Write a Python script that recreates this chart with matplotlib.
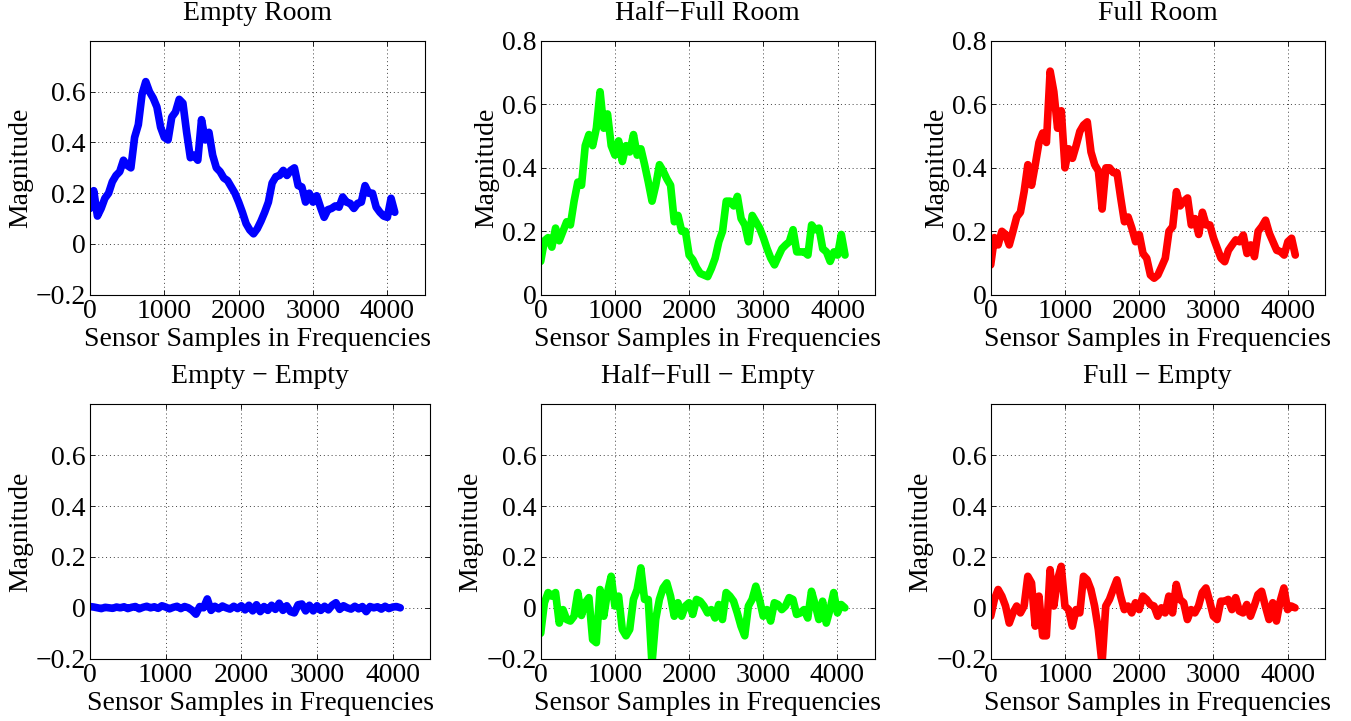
import numpy as np
import matplotlib
matplotlib.use("Agg")
import matplotlib.pyplot as plt
from matplotlib.ticker import FuncFormatter

plt.rcParams['font.family'] = ['Liberation Serif', 'DejaVu Serif']
plt.rcParams['axes.unicode_minus'] = True

# Sample positions (sensor samples in frequencies), every 50 samples
x_samples = list(range(0, 4101, 50))

empty_room = [
    0.14, 0.21, 0.11, 0.14, 0.18, 0.20, 0.245, 0.27, 0.285, 0.33,
    0.31, 0.30, 0.42, 0.47, 0.59, 0.64, 0.60, 0.575, 0.54, 0.46,
    0.42, 0.41, 0.50, 0.52, 0.57, 0.555, 0.44, 0.34, 0.35, 0.33,
    0.49, 0.41, 0.44, 0.35, 0.30, 0.285, 0.26, 0.25, 0.225, 0.20,
    0.165, 0.125, 0.08, 0.055, 0.04, 0.06, 0.09, 0.125, 0.165, 0.24,
    0.265, 0.27, 0.29, 0.27, 0.29, 0.30, 0.23, 0.225, 0.165, 0.20,
    0.165, 0.19, 0.145, 0.105, 0.135, 0.14, 0.15, 0.145, 0.185, 0.165,
    0.16, 0.14, 0.16, 0.165, 0.23, 0.20, 0.20, 0.145, 0.125, 0.11,
    0.105, 0.18, 0.125,
]

half_full_room = [
    0.105, 0.17, 0.18, 0.15, 0.21, 0.17, 0.20, 0.23, 0.22, 0.295,
    0.355, 0.345, 0.47, 0.505, 0.47, 0.525, 0.64, 0.525, 0.57, 0.47,
    0.44, 0.485, 0.42, 0.47, 0.45, 0.505, 0.44, 0.46, 0.41, 0.355,
    0.295, 0.345, 0.41, 0.39, 0.365, 0.345, 0.23, 0.25, 0.20, 0.20,
    0.125, 0.11, 0.085, 0.067, 0.062, 0.057, 0.083, 0.115, 0.167, 0.20,
    0.295, 0.295, 0.28, 0.31, 0.24, 0.22, 0.167, 0.25, 0.23, 0.21,
    0.18, 0.145, 0.115, 0.094, 0.12, 0.145, 0.157, 0.167, 0.205, 0.135,
    0.135, 0.135, 0.125, 0.22, 0.205, 0.21, 0.145, 0.135, 0.105, 0.135,
    0.125, 0.19, 0.125,
]

full_room = [
    0.094, 0.18, 0.157, 0.20, 0.19, 0.157, 0.20, 0.245, 0.26, 0.325,
    0.41, 0.345, 0.41, 0.48, 0.51, 0.48, 0.705, 0.64, 0.525, 0.58,
    0.40, 0.46, 0.43, 0.47, 0.515, 0.535, 0.545, 0.45, 0.41, 0.39,
    0.27, 0.40, 0.40, 0.385, 0.385, 0.305, 0.23, 0.245, 0.21, 0.167,
    0.19, 0.13, 0.115, 0.062, 0.052, 0.062, 0.088, 0.115, 0.20, 0.215,
    0.325, 0.28, 0.295, 0.305, 0.22, 0.24, 0.19, 0.26, 0.22, 0.22,
    0.178, 0.146, 0.115, 0.104, 0.14, 0.157, 0.173, 0.167, 0.188, 0.13,
    0.157, 0.12, 0.20, 0.215, 0.235, 0.194, 0.167, 0.14, 0.136, 0.125,
    0.167, 0.178, 0.125,
]

empty_minus_empty = [
    0.005, 0.003, 0.0, -0.003, 0.002, 0.0, -0.002, 0.003, 0.0, 0.004,
    -0.003, 0.002, 0.005, -0.004, 0.002, 0.006, 0.0, 0.004, -0.002, 0.008,
    0.003, -0.004, 0.002, 0.006, -0.003, 0.005, 0.0, -0.01, -0.025, 0.005,
    0.0, 0.035, -0.01, 0.006, -0.004, 0.007, 0.0, -0.005, 0.006, -0.003,
    0.008, -0.008, 0.01, -0.012, 0.012, -0.015, 0.005, -0.01, 0.01, -0.006,
    0.018, -0.01, 0.008, -0.015, -0.02, 0.012, 0.015, -0.012, 0.01, -0.012,
    0.008, -0.01, 0.006, -0.008, 0.01, 0.02, -0.006, 0.008, 0.0, -0.005,
    0.006, -0.004, 0.005, -0.015, 0.005, 0.0, 0.004, -0.005, 0.006, -0.003,
    0.003, 0.005, 0.0,
]

half_full_minus_empty = [
    -0.10, 0.02, 0.06, 0.046, 0.06, -0.06, -0.007, -0.046, -0.052, -0.033,
    0.06, -0.03, 0.02, 0.04, -0.125, -0.137, 0.072, -0.033, 0.06, 0.124,
    0.007, 0.046, -0.085, -0.11, -0.085, 0.033, 0.072, 0.157, 0.033, 0.033,
    -0.22, -0.046, 0.033, 0.078, 0.098, 0.046, -0.033, 0.02, -0.033, 0.007,
    0.02, -0.026, 0.033, 0.026, 0.007, -0.02, -0.007, -0.04, 0.013, -0.046,
    0.06, 0.046, 0.026, -0.02, -0.072, -0.11, 0.007, 0.033, 0.085, 0.033,
    -0.033, -0.007, -0.052, 0.02, 0.013, -0.007, 0.007, 0.04, 0.033, -0.026,
    -0.02, -0.007, -0.04, 0.065, 0.013, -0.046, 0.026, -0.06, -0.007, 0.06,
    -0.02, 0.013, 0.0,
]

full_minus_empty = [
    -0.033, 0.033, 0.072, 0.046, 0.007, -0.06, -0.02, 0.007, -0.02, 0.007,
    0.124, 0.098, -0.072, 0.046, -0.11, -0.11, 0.15, 0.007, 0.11, 0.163,
    0.007, -0.007, -0.072, -0.007, -0.02, 0.124, 0.11, 0.072, 0.007, -0.085,
    -0.22, 0.007, 0.033, 0.072, 0.11, 0.046, -0.007, 0.007, -0.02, 0.02,
    -0.007, 0.046, 0.033, 0.013, 0.007, -0.033, 0.0, -0.02, 0.046, -0.02,
    0.092, 0.033, 0.02, -0.046, -0.007, -0.02, 0.007, 0.06, 0.078, 0.026,
    -0.033, -0.046, 0.026, 0.026, 0.033, -0.007, 0.04, -0.013, -0.02, 0.013,
    -0.033, 0.007, 0.052, 0.065, 0.007, -0.046, 0.02, -0.052, 0.026, 0.078,
    -0.007, 0.007, 0.0,
]

titles = ["Empty Room", "Half\u2212Full Room", "Full Room",
          "Empty \u2212 Empty", "Half\u2212Full \u2212 Empty", "Full \u2212 Empty"]
series = [empty_room, half_full_room, full_room,
          empty_minus_empty, half_full_minus_empty, full_minus_empty]
colors = ["#0000ff", "#00ff00", "#ff0000", "#0000ff", "#00ff00", "#ff0000"]
ylims = [(-0.2, 0.8), (0, 0.8), (0, 0.8), (-0.2, 0.8), (-0.2, 0.8), (-0.2, 0.8)]
yticks_list = [[-0.2, 0, 0.2, 0.4, 0.6], [0, 0.2, 0.4, 0.6, 0.8], [0, 0.2, 0.4, 0.6, 0.8],
               [-0.2, 0, 0.2, 0.4, 0.6], [-0.2, 0, 0.2, 0.4, 0.6], [-0.2, 0, 0.2, 0.4, 0.6]]
xticks = [0, 1000, 2000, 3000, 4000]

W, H = 1351, 721
fig = plt.figure(figsize=(W / 100, H / 100), dpi=100)

# axes boxes in pixels: left, top, right, bottom
boxes = [
    (90, 41, 424.5, 294.7), (540.7, 41, 874.7, 294.7), (990.7, 41, 1325, 294.7),
    (90, 404.3, 430.5, 658.7), (540.7, 404.3, 874.5, 658.7), (990.7, 404.3, 1324.7, 658.7),
]

def fmt(v, pos):
    s = "%g" % round(v, 6)
    return s.replace("-", "\u2212")

FS = 20
for i in range(6):
    l, t, r, b = boxes[i]
    ax = fig.add_axes([l / W, 1 - b / H, (r - l) / W, (b - t) / H])
    ax.plot(x_samples, series[i], color=colors[i], lw=5.5, solid_joinstyle='round',
            solid_capstyle='round')
    ax.set_xlim(0, 4500)
    ax.set_ylim(*ylims[i])
    ax.set_xticks(xticks)
    ax.set_yticks(yticks_list[i])
    ax.xaxis.set_major_formatter(FuncFormatter(fmt))
    ax.yaxis.set_major_formatter(FuncFormatter(fmt))
    ax.tick_params(direction='in', length=3.5, width=0.6, top=True, right=True,
                   labelsize=FS, pad=3)
    ax.grid(True, linestyle=(0, (1, 3)), color='0.25', lw=0.7)
    for sp in ax.spines.values():
        sp.set_linewidth(0.8)
    ax.set_title(titles[i], fontsize=FS, pad=15)
    ax.set_xlabel("Sensor Samples in Frequencies", fontsize=FS, labelpad=2.5)
    ax.set_ylabel("Magnitude", fontsize=FS, labelpad=2)

fig.savefig("out.png", dpi=100)
